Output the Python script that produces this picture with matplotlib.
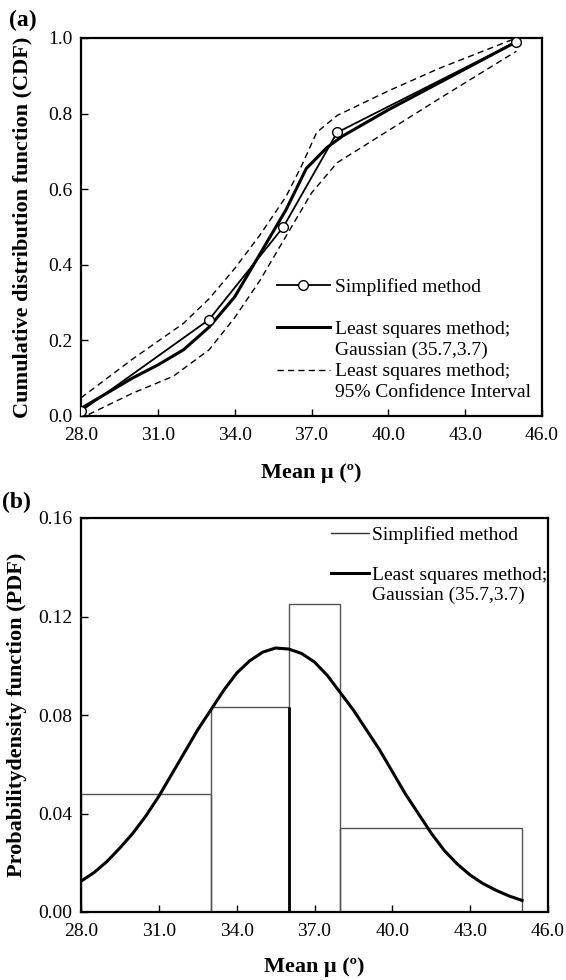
import matplotlib
matplotlib.use("Agg")
import matplotlib.pyplot as plt
from matplotlib.lines import Line2D
from matplotlib.ticker import FormatStrFormatter, MultipleLocator

# ---------------- data (a) CDF ----------------
simp_x = [28.0, 33.0, 35.9, 38.0, 45.0]
simp_cdf = [0.013, 0.255, 0.50, 0.75, 0.99]

lsq_x = [28.0, 29.0, 30.0, 31.0, 32.0, 33.0, 34.0, 35.0, 36.0, 36.8, 37.6, 38.2, 40.0, 45.0]
lsq_cdf = [0.02, 0.06, 0.10, 0.135, 0.175, 0.235, 0.315, 0.43, 0.545, 0.655, 0.71, 0.74, 0.81, 0.99]

ci_up_x = [28.0, 30.0, 32.0, 33.0, 34.0, 35.0, 36.0, 36.6, 37.2, 38.0, 40.0, 42.0, 45.0]
ci_up = [0.048, 0.15, 0.245, 0.31, 0.39, 0.48, 0.58, 0.66, 0.75, 0.795, 0.86, 0.92, 1.0]

ci_lo_x = [28.3, 30.0, 31.6, 33.0, 34.0, 35.0, 36.0, 37.0, 38.0, 40.0, 42.0, 45.0]
ci_lo = [0.004, 0.06, 0.105, 0.175, 0.26, 0.36, 0.475, 0.59, 0.67, 0.755, 0.84, 0.965]

# ---------------- data (b) PDF ----------------
bin_edges = [28.0, 33.0, 36.0, 38.0, 45.0]
pdf_heights = [0.048, 0.0834, 0.125, 0.034]

gauss_x = [28.0, 28.5, 29.0, 29.5, 30.0, 30.5, 31.0, 31.5, 32.0, 32.5, 33.0, 33.5, 34.0,
           34.5, 35.0, 35.5, 36.0, 36.5, 37.0, 37.5, 38.0, 38.5, 39.0, 39.5, 40.0, 40.5,
           41.0, 41.5, 42.0, 42.5, 43.0, 43.5, 44.0, 44.5, 45.0]
gauss_pdf = [0.0125, 0.016, 0.0205, 0.026, 0.032, 0.039, 0.047, 0.056, 0.065, 0.074, 0.082,
             0.090, 0.097, 0.102, 0.1055, 0.1072, 0.1068, 0.105, 0.1015, 0.096, 0.089,
             0.082, 0.074, 0.066, 0.057, 0.048, 0.040, 0.032, 0.025, 0.0195, 0.015,
             0.0115, 0.0088, 0.0065, 0.0047]

x_ticks = [28.0, 31.0, 34.0, 37.0, 40.0, 43.0, 46.0]

plt.rcParams['font.family'] = ['Liberation Serif', 'DejaVu Serif']

W, H = 566, 980
fig = plt.figure(figsize=(W / 100, H / 100), dpi=100)

def px_axes(l, t, r, b):
    return fig.add_axes([l / W, 1 - b / H, (r - l) / W, (b - t) / H])

ax1 = px_axes(81, 38, 542, 416)
ax2 = px_axes(81, 518, 548, 912)

TICK_FS = 14
for ax in (ax1, ax2):
    for s in ax.spines.values():
        s.set_linewidth(1.6)
    ax.tick_params(direction='in', length=5, width=1, labelsize=TICK_FS,
                   top=False, right=False)
    ax.tick_params(axis='x', pad=8)
    ax.tick_params(axis='y', pad=6)
    ax.set_xlim(28, 46)
    ax.set_xticks(x_ticks)
    ax.xaxis.set_major_formatter(FormatStrFormatter('%.1f'))

DASH = (0, (4.5, 3))

# ---------------- (a) ----------------
h_simp, = ax1.plot(simp_x, simp_cdf, color='black', lw=1.3, marker='o', ms=7,
                   mfc='white', mec='black', mew=1.0, zorder=4)
h_lsq, = ax1.plot(lsq_x, lsq_cdf, color='black', lw=2.2, zorder=3)
h_ci, = ax1.plot(ci_up_x, ci_up, color='black', lw=1.0, ls=DASH, zorder=2)
ax1.plot(ci_lo_x, ci_lo, color='black', lw=1.0, ls=DASH, zorder=2)
ax1.set_ylim(0, 1.0)
ax1.yaxis.set_major_locator(MultipleLocator(0.2))
ax1.yaxis.set_major_formatter(FormatStrFormatter('%.1f'))

blank = Line2D([], [], color='none')
ax1.legend([h_simp, blank, h_lsq, blank, h_ci, blank],
           ['Simplified method', '', 'Least squares method;', 'Gaussian (35.7,3.7)',
            'Least squares method;', '95% Confidence Interval'],
           loc='upper left', bbox_to_anchor=((277 - 81) / 461, (416 - 278) / 378),
           frameon=False, fontsize=14, borderpad=0, borderaxespad=0,
           handlelength=2.7, handletextpad=0.3, labelspacing=0.18)

ax1.set_ylabel('Cumulative distribution function (CDF)', fontsize=16, fontweight='bold')
ax1.yaxis.label.set_va('center')
ax1.yaxis.set_label_coords((22 - 81) / 461, 0.5)
ax1.set_xlabel('Mean μ (º)', fontsize=16, fontweight='bold')
ax1.xaxis.label.set_va('center')
ax1.xaxis.set_label_coords(0.5, -57 / 378)

# ---------------- (b) ----------------
widths = [bin_edges[i + 1] - bin_edges[i] for i in range(len(pdf_heights))]
ax2.bar(bin_edges[:-1], pdf_heights, width=widths, align='edge',
        fill=False, edgecolor='#555555', linewidth=1.0, zorder=2)
ax2.vlines(bin_edges[2], 0, pdf_heights[1], color='black', lw=2.0, zorder=2)
h_gauss, = ax2.plot(gauss_x, gauss_pdf, color='black', lw=2.2, zorder=3)
ax2.set_ylim(0, 0.16)
ax2.yaxis.set_major_locator(MultipleLocator(0.04))
ax2.yaxis.set_major_formatter(FormatStrFormatter('%.2f'))

h_hist = Line2D([], [], color='#333333', lw=1.0)
ax2.legend([h_hist, blank, h_gauss, blank],
           ['Simplified method', '', 'Least squares method;', 'Gaussian (35.7,3.7)'],
           loc='upper left', bbox_to_anchor=((331 - 81) / 467, (912 - 526) / 394),
           frameon=False, fontsize=14, borderpad=0, borderaxespad=0,
           handlelength=1.95, handletextpad=0.15, labelspacing=0.12)

ax2.set_ylabel('Probabilitydensity function (PDF)', fontsize=16, fontweight='bold')
ax2.yaxis.label.set_va('center')
ax2.yaxis.set_label_coords((17 - 81) / 467, 0.5)
ax2.set_xlabel('Mean μ (º)', fontsize=16, fontweight='bold')
ax2.xaxis.label.set_va('center')
ax2.xaxis.set_label_coords(0.5, -55 / 394)

fig.text(9 / W, 1 - 20 / H, '(a)', fontsize=17, fontweight='bold', va='center', ha='left')
fig.text(2 / W, 1 - 502 / H, '(b)', fontsize=17, fontweight='bold', va='center', ha='left')

fig.savefig('out.png', dpi=100)
